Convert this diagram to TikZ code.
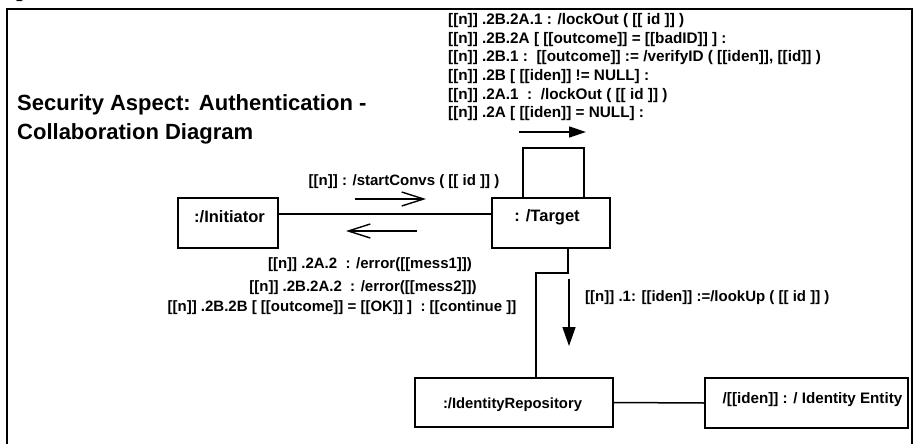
\documentclass[tikz,border=0pt]{standalone}
\usepackage{fontspec}
\setmainfont{Liberation Sans}
\newfontfamily\capfont{Liberation Serif}
\usetikzlibrary{arrows.meta,calc}

\newcommand{\fsz}[1]{\bfseries\fontsize{#1}{#1}\selectfont}

\tikzset{
  obj/.style={draw, line width=1.6pt, minimum width=#1, inner sep=0pt},
  objtxt/.style={font=\fsz{#1}, inner sep=0pt},
  msg/.style={font=\fsz{15}, inner sep=0pt},
  selfmsg/.style={font=\fsz{15.3}, inner sep=0pt, anchor=base west},
  link/.style={line width=1.5pt},
  callarrow/.style={line width=1.4pt, -{Triangle[length=17pt,width=11pt]}},
  flatarrow/.style={line width=1.4pt, -{Straight Barb[length=22pt,width=14pt,line width=1.4pt]}},
  frame/.style={line width=1.6pt},
}

\begin{document}
\begin{tikzpicture}[x=1pt, y=-1pt]
\useasboundingbox (0,0) rectangle (915,444);

% caption text running above the frame
\node[anchor=base west, inner sep=0pt, font=\capfont\bfseries\fontsize{24}{24}\selectfont] (captxt) at (16,-3) {parameters.};

% outer frame (its lower edge lies below the page)
\draw[frame] (7,452) |- (912,9) -- (912,452);

% title
\node[anchor=north west, align=left, inner sep=0pt,
      font=\bfseries\fontsize{22}{29}\selectfont] (title) at (17,94)
  {Security Aspect: Authentication -\\Collaboration Diagram};

% objects
\node[obj=100pt, minimum height=50pt] (init) at (228,223) {};
\node[objtxt=16.5] (inittxt) at (229.5,217) {:/Initiator};

\node[obj=118pt, minimum height=50pt] (target) at (551,223) {};
\node[objtxt=16.5] (targettxt) at (547,217) {: /Target};

\node[obj=198pt, minimum height=49pt] (repo) at (514,402.5) {};
\node[objtxt=14.8] (repotxt) at (512.5,405) {:/IdentityRepository};

\node[obj=203pt, minimum height=50pt] (entity) at (806.5,403) {};
\node[objtxt=15.2] (entitytxt) at (812.5,400) {/[[iden]] : / Identity Entity};

% links
\draw[link] ([yshift=9pt]init.east) -- ([yshift=9pt]target.west);
\draw[link] ([xshift=-27pt]target.north east) |- ++(0,-49) -| ([xshift=32pt]target.north west);
\coordinate (bend) at ([xshift=17pt,yshift=-24pt]target.south);
\draw[link] ([xshift=17pt]target.south) -- (bend) -| ([xshift=22pt]repo.north);
\draw[link] (repo.east) -- (entity.west);

% message arrows
\coordinate (a1s) at (355,199); \coordinate (a1e) at (426,199);
\draw[flatarrow] (a1s) -- (a1e);
\coordinate (a2s) at (417,231); \coordinate (a2e) at (346,231);
\draw[flatarrow] (a2s) -- (a2e);
\coordinate (a3s) at (519,132); \coordinate (a3e) at (586,132);
\draw[callarrow] (a3s) -- (a3e);
\coordinate (a4s) at (569,279); \coordinate (a4e) at (569,346);
\draw[callarrow, -{Triangle[length=19pt,width=13pt]}] (a4s) -- (a4e);

% message labels
\node[msg] (m0) at (404,182) {[[n]] : /startConvs ( [[ id ]] )};

\node[selfmsg] (s1) at (448,25)   {[[n]] .2B.2A.1 : /lockOut ( [[ id ]] )};
\node[selfmsg] (s2) at (448,43.5) {[[n]] .2B.2A [ [[outcome]] = [[badID]] ] :};
\node[selfmsg] (s3) at (448,62)   {[[n]] .2B.1 :\ \ [[outcome]] := /verifyID ( [[iden]], [[id]] )};
\node[selfmsg] (s4) at (448,80.5) {[[n]] .2B [ [[iden]] != NULL] :};
\node[selfmsg] (s5) at (448,99)   {[[n]] .2A.1\ \ :\ \ /lockOut ( [[ id ]] )};
\node[selfmsg] (s6) at (448,117.5){[[n]] .2A [ [[iden]] = NULL] :};

\node[msg] (m1) at (370,265) {[[n]] .2A.2\ \ : /error([[mess1]])};
\node[msg] (m2) at (363,287.5) {[[n]] .2B.2A.2\ \ : /error([[mess2]])};
\node[msg] (m3) at (342,307.5) {[[n]] .2B.2B [ [[outcome]] = [[OK]] ]\ \ : [[continue ]]};

\node[msg, anchor=west] (m4) at (585,298) {[[n]] .1: [[iden]] :=/lookUp ( [[ id ]] )};
\end{tikzpicture}
\end{document}
